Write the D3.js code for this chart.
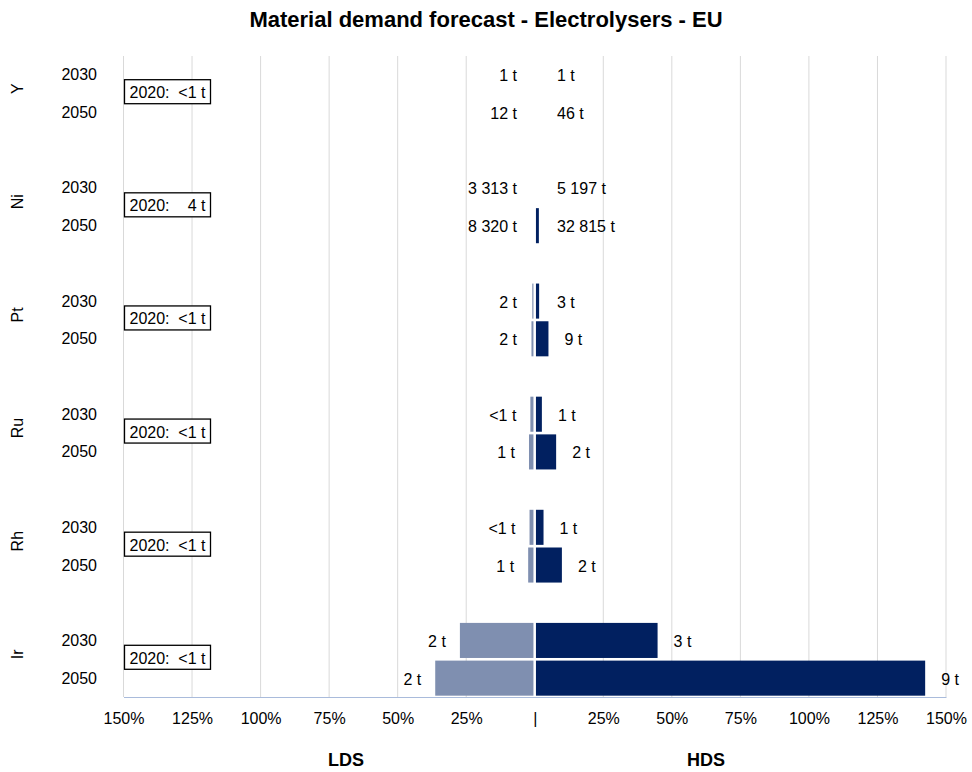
<!DOCTYPE html>
<html>
<head>
<meta charset="utf-8">
<script src="https://cdn.jsdelivr.net/npm/d3@7"></script>
<style>
  body { margin: 0; background: #fff; }
  text { font-family: "Liberation Sans", Arial, sans-serif; fill: #000; }
</style>
</head>
<body>
<svg id="chart" width="972" height="772"></svg>
<script>
// ---- data ----
const elements = ["Y", "Ni", "Pt", "Ru", "Rh", "Ir"];
const years = ["2030", "2050"];
const ticks = [-150, -125, -100, -75, -50, -25, 0, 25, 50, 75, 100, 125, 150];

// share (%) bars, LDS (left) and HDS (right)
const lds2030 = [0, 0, 0.9, 1.6, 1.9, 27.3];
const lds2050 = [0, 0, 1.2, 2.1, 2.4, 36.3];
const hds2030 = [0, 0, 1.6, 2.6, 3.2, 44.8];
const hds2050 = [0, 1.5, 5.0, 7.8, 9.9, 142.4];

// label texts
const lds2030Labels = ["1 t", "3 313 t", "2 t", "<1 t", "<1 t", "2 t"];
const lds2050Labels = ["12 t", "8 320 t", "2 t", "1 t", "1 t", "2 t"];
const hds2030Labels = ["1 t", "5 197 t", "3 t", "1 t", "1 t", "3 t"];
const hds2050Labels = ["46 t", "32 815 t", "9 t", "2 t", "2 t", "9 t"];
const baseline2020 = ["<1 t", "4 t", "<1 t", "<1 t", "<1 t", "<1 t"];

const title = "Material demand forecast - Electrolysers - EU";

// ---- build rows ----
const rows = [];
elements.forEach((el, i) => {
  rows.push({el, year: "2030", lds: lds2030[i], hds: hds2030[i], ldsL: lds2030Labels[i], hdsL: hds2030Labels[i]});
  rows.push({el, year: "2050", lds: lds2050[i], hds: hds2050[i], ldsL: lds2050Labels[i], hdsL: hds2050Labels[i]});
});

// ---- layout ----
const svg = d3.select("#chart");
const plotTop = 56, plotBottom = 697;
const x = d3.scaleLinear().domain([-150, 150]).range([123.5, 946]);
const yGroup = d3.scaleBand().domain(elements).range([plotTop, plotBottom]).paddingInner(1/3).paddingOuter(0);
const yYear = d3.scaleBand().domain(years).range([0, yGroup.bandwidth()]).paddingInner(0.07).paddingOuter(0.035);

const HDS = "#012060", LDS = "#7f8fb0";

// title
svg.append("text")
  .attr("x", 486).attr("y", 27)
  .attr("text-anchor", "middle")
  .style("font-weight", "bold").style("font-size", "22px")
  .text(title);

// gridlines
svg.append("g").selectAll("line")
  .data(ticks.filter(t => t !== 0))
  .join("line")
  .attr("x1", d => x(d)).attr("x2", d => x(d))
  .attr("y1", plotTop).attr("y2", plotBottom)
  .attr("stroke", "#d9d9d9").attr("stroke-width", 1);

// x axis
const xAxis = d3.axisBottom(x).tickValues(ticks)
  .tickFormat(d => d === 0 ? "|" : Math.abs(d) + "%")
  .tickSize(0).tickPadding(16);
const gx = svg.append("g").attr("transform", `translate(0,${plotBottom})`).call(xAxis);
gx.select(".domain").attr("stroke", "#a9bbdb").attr("stroke-width", 1.2);
gx.selectAll("text").style("font-size", "16px").style("font-family", "'Liberation Sans',sans-serif").attr("fill", "#000");

// bars
const gBars = svg.append("g");
rows.forEach(r => {
  const y0 = yGroup(r.el) + yYear(r.year);
  const h = yYear.bandwidth();
  if (r.lds > 0) {
    gBars.append("rect")
      .attr("x", x(-r.lds)).attr("y", y0)
      .attr("width", Math.max(0, x(0) - x(-r.lds) - 1.3)).attr("height", h)
      .attr("fill", LDS);
  }
  if (r.hds > 0) {
    gBars.append("rect")
      .attr("x", x(0) + 1.2).attr("y", y0)
      .attr("width", Math.max(0, x(r.hds) - x(0) - 1.2)).attr("height", h)
      .attr("fill", HDS);
  }
  const cy = y0 + h / 2 + 1;
  svg.append("text")
    .attr("x", Math.min(x(-r.lds) - 14, 517)).attr("y", cy)
    .attr("text-anchor", "end").attr("dominant-baseline", "central")
    .style("font-size", "16px").text(r.ldsL);
  svg.append("text")
    .attr("x", Math.max(x(r.hds) + 16, 557)).attr("y", cy)
    .attr("text-anchor", "start").attr("dominant-baseline", "central")
    .style("font-size", "16px").text(r.hdsL);
  // year labels
  svg.append("text")
    .attr("x", 97).attr("y", y0 + h / 2)
    .attr("text-anchor", "end").attr("dominant-baseline", "central")
    .style("font-size", "16px").text(r.year);
});

// element labels + 2020 boxes
elements.forEach((el, i) => {
  const cy = yGroup(el) + yGroup.bandwidth() / 2;
  svg.append("text")
    .attr("transform", `translate(17,${cy - 5}) rotate(-90)`)
    .attr("text-anchor", "middle").attr("dominant-baseline", "central")
    .style("font-size", "16px").text(el);
  const bx = 124.5, bw = 86, bh = 24, by = cy - 2 - bh / 2;
  svg.append("rect").attr("x", bx).attr("y", by).attr("width", bw).attr("height", bh)
    .attr("fill", "#fff").attr("stroke", "#000").attr("stroke-width", 1.3);
  svg.append("text").attr("x", bx + 5).attr("y", by + bh / 2 + 1)
    .attr("dominant-baseline", "central").style("font-size", "16px").text("2020:");
  svg.append("text").attr("x", bx + bw - 5).attr("y", by + bh / 2 + 1)
    .attr("text-anchor", "end")
    .attr("dominant-baseline", "central").style("font-size", "16px").text(baseline2020[i]);
});

// scenario labels
[["LDS", 346], ["HDS", 706]].forEach(([t, px]) => {
  svg.append("text").attr("x", px).attr("y", 766)
    .attr("text-anchor", "middle")
    .style("font-weight", "bold").style("font-size", "18px").text(t);
});
</script>
</body>
</html>
